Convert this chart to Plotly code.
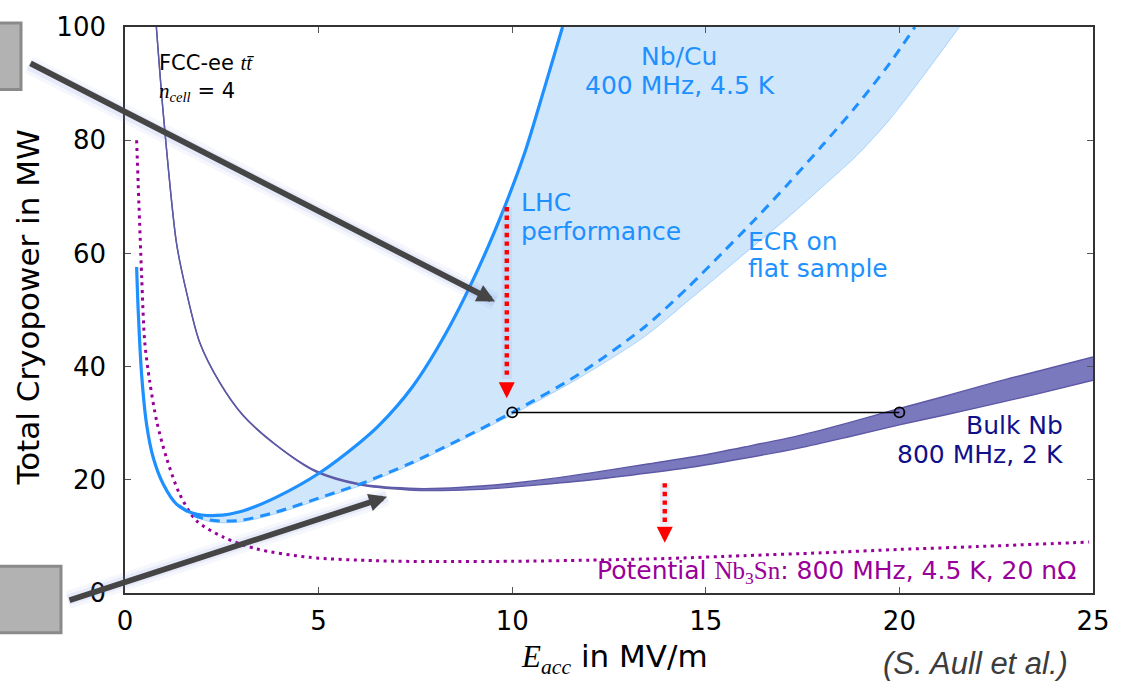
import plotly.graph_objects as go

# ---------------------------------------------------------------------------
# Data: total cryogenic power (MW) versus accelerating gradient (MV/m)
# ---------------------------------------------------------------------------

# Nb/Cu, 400 MHz, 4.5 K - LHC cavity performance (solid line)
nbcu_E = [0.30, 0.34, 0.43, 0.56, 0.73, 0.99, 1.33, 1.76, 2.36, 3.04, 3.90,
          5.02, 6.05, 6.56, 7.42, 8.28, 9.13, 9.82, 10.33, 10.85, 11.30]
nbcu_P = [57.6, 50.1, 38.5, 29.7, 23.9, 19.2, 15.7, 14.1, 13.7, 14.5, 16.9,
          21.2, 26.5, 29.6, 36.4, 45.8, 57.4, 68.5, 77.9, 89.6, 100.0]

# Nb/Cu, ECR film measured on a flat sample (dashed line)
ecr_E = [1.40, 1.76, 2.19, 2.60, 3.04, 3.90, 5.19, 6.13, 7.33, 8.70, 10.0,
         11.71, 13.42, 14.54, 15.40, 16.27, 17.13, 18.0, 18.87, 19.73, 20.40]
ecr_P = [15.4, 13.8, 12.9, 12.7, 12.9, 14.3, 17.2, 19.4, 22.8, 27.3, 31.9,
         38.6, 47.0, 54.0, 59.9, 66.0, 72.3, 79.0, 85.9, 93.4, 100.0]

# lower boundary of the Nb/Cu band
band_lo_E = [1.40, 1.76, 2.19, 2.60, 3.04, 3.90, 5.19, 6.13, 7.33, 8.70, 10.0,
             11.71, 13.42, 14.54, 15.40, 16.27, 17.13, 18.0, 18.87, 19.73,
             20.60, 21.55]
band_lo_P = [15.3, 13.6, 12.6, 12.4, 12.6, 14.0, 16.9, 19.1, 22.5, 27.0, 31.5,
             37.9, 45.3, 51.6, 56.5, 61.5, 66.4, 71.7, 77.1, 83.5, 91.2, 100.0]

# Bulk Nb, 800 MHz, 2 K (band)
bulk_E = [0.81, 0.99, 1.33, 1.59, 1.93, 2.44, 3.04, 3.90, 4.93, 6.05, 7.33,
          8.2, 9.2, 10.0, 11.0, 12.2, 13.5, 14.8, 16.0, 17.4, 18.7, 20.0,
          21.2, 22.5, 23.7, 25.0]
bulk_hi = [100.0, 84.6, 61.8, 53.1, 44.3, 37.3, 31.5, 26.2, 21.6, 19.3, 18.5,
           18.5, 18.9, 19.4, 20.2, 21.4, 22.8, 24.2, 25.8, 27.8, 30.1, 32.6,
           34.8, 37.3, 39.4, 41.7]
bulk_lo = [100.0, 84.6, 61.8, 53.1, 44.2, 37.2, 31.4, 26.1, 21.4, 19.1, 18.2,
           18.1, 18.3, 18.7, 19.3, 20.1, 21.2, 22.4, 23.8, 25.6, 27.6, 29.7,
           31.5, 33.5, 35.4, 37.6]

# Potential Nb3Sn, 800 MHz, 4.5 K, 20 nOhm (dotted line)
sn_E = [0.30, 0.43, 0.51, 0.64, 0.82, 1.07, 1.41, 1.84, 2.53, 3.39, 4.76,
        6.47, 8.0, 10.0, 12.0, 14.0, 16.0, 18.0, 20.0, 22.0, 24.9]
sn_P = [80.0, 56.0, 44.3, 37.3, 30.3, 23.9, 17.5, 12.8, 9.9, 7.8, 6.3,
        5.7, 5.55, 5.6, 5.8, 6.1, 6.6, 7.1, 7.7, 8.2, 9.0]

# equal-power comparison: ECR Nb/Cu at 10 MV/m vs bulk Nb at 20 MV/m
link_E = [10.0, 20.0]
link_P = [31.9, 31.9]

# red "improvement" arrows: gradient, start, head top, tip
red_arrows = [
    (9.86, 68.2, 37.8, 34.4),
    (13.94, 19.4, 11.9, 8.9),
]

x_ticks = [0, 5, 10, 15, 20, 25]
y_ticks = [0, 20, 40, 60, 80, 100]

# ---------------------------------------------------------------------------
# Styling
# ---------------------------------------------------------------------------
W, H = 1123, 681
ML, MR, MT, MB = 125, 30, 22, 88
PW, PH = W - ML - MR, H - MT - MB

BLUE = "#1e90ff"
BAND_BLUE = "#d0e6fb"
BULK_FILL = "#7b79bd"
BULK_EDGE = "#5d59a6"
NAVY = "#10108a"
PURPLE = "#990099"
SANS = "DejaVu Sans"
SERIF = "Liberation Serif"


def paper(px, py):
    """Convert a pixel position on the page into paper coordinates."""
    return (px - ML) / PW, (H - MB - py) / PH


fig = go.Figure()

# light-blue band of the Nb/Cu performance range
fig.add_trace(go.Scatter(
    x=band_lo_E, y=band_lo_P, mode="lines",
    line=dict(color="rgba(30,144,255,0.30)", width=1, shape="spline", smoothing=0.8),
    hoverinfo="skip", showlegend=False))
upper = [(e, p) for e, p in zip(nbcu_E, nbcu_P) if e >= 1.33]
fig.add_trace(go.Scatter(
    x=[e for e, _ in upper], y=[p for _, p in upper], mode="lines",
    line=dict(width=0, shape="spline", smoothing=0.8),
    fill="tonexty", fillcolor=BAND_BLUE, hoverinfo="skip", showlegend=False))

# bulk Nb band
fig.add_trace(go.Scatter(
    x=bulk_E, y=bulk_lo, mode="lines",
    line=dict(color=BULK_EDGE, width=1.4, shape="spline", smoothing=0.8),
    hoverinfo="skip", showlegend=False))
fig.add_trace(go.Scatter(
    x=bulk_E, y=bulk_hi, mode="lines",
    line=dict(color=BULK_EDGE, width=1.4, shape="spline", smoothing=0.8),
    fill="tonexty", fillcolor=BULK_FILL, hoverinfo="skip", showlegend=False))

# Nb3Sn potential
fig.add_trace(go.Scatter(
    x=sn_E, y=sn_P, mode="lines",
    line=dict(color=PURPLE, width=3, dash="3px,4.5px", shape="spline", smoothing=0.8),
    hoverinfo="skip", showlegend=False))

# Nb/Cu solid and ECR dashed curves
fig.add_trace(go.Scatter(
    x=nbcu_E, y=nbcu_P, mode="lines",
    line=dict(color=BLUE, width=3.2, shape="spline", smoothing=0.8),
    hoverinfo="skip", showlegend=False))
fig.add_trace(go.Scatter(
    x=ecr_E, y=ecr_P, mode="lines",
    line=dict(color=BLUE, width=3, dash="10px,7px", shape="spline", smoothing=0.8),
    hoverinfo="skip", showlegend=False))

# equal-power link
fig.add_trace(go.Scatter(
    x=link_E, y=link_P, mode="lines+markers",
    line=dict(color="black", width=1.6),
    marker=dict(symbol="circle-open", size=10, color="black", line=dict(width=1.8)),
    hoverinfo="skip", showlegend=False))

annotations = []

# red dotted arrows
for e, p_top, p_head, p_tip in red_arrows:
    fig.add_trace(go.Scatter(
        x=[e, e], y=[p_top, p_head], mode="lines",
        line=dict(color="rgba(150,170,230,0.2)", width=10),
        hoverinfo="skip", showlegend=False))
    fig.add_trace(go.Scatter(
        x=[e, e], y=[p_top, p_head], mode="lines",
        line=dict(color="#ff0000", width=4.4, dash="4.4px,4.2px"),
        hoverinfo="skip", showlegend=False))
    annotations.append(dict(
        x=e, y=p_tip, xref="x", yref="y", text="", showarrow=True,
        ax=0, ay=-16, axref="pixel", ayref="pixel",
        arrowhead=2, arrowsize=0.8, arrowwidth=4, arrowcolor="#ff0000"))

# dark grey pointer arrows from the side boxes (pixel geometry)
pointer_arrows = [((29, 60), (495, 299)), ((68, 600), (387, 496))]
shapes = []
for (tx, ty), (hx, hy) in pointer_arrows:
    x0, y0 = paper(tx, ty)
    x1, y1 = paper(hx, hy)
    for wdt, alpha in ((18, 0.07), (11, 0.12)):
        shapes.append(dict(type="line", xref="paper", yref="paper",
                           x0=x0, y0=y0, x1=x1, y1=y1,
                           line=dict(color=f"rgba(120,140,225,{alpha})", width=wdt),
                           layer="above"))
    annotations.append(dict(
        x=x1, y=y1, xref="paper", yref="paper", text="", showarrow=True,
        ax=tx - hx, ay=ty - hy, axref="pixel", ayref="pixel",
        arrowhead=2, arrowsize=0.62, arrowwidth=5.8, arrowcolor="#454545"))

# grey side boxes
for (bx0, by0, bx1, by1) in [(-6, 18, 21, 85), (-6, 566, 61, 633)]:
    x0, y0 = paper(bx0, by1)
    x1, y1 = paper(bx1, by0)
    shapes.append(dict(type="rect", xref="paper", yref="paper",
                       x0=x0, y0=y0, x1=x1, y1=y1,
                       fillcolor="#b2b2b2", line=dict(color="#8a8a8a", width=3),
                       layer="above"))


def label(text, px, py, xanchor, color, size=25, family=SANS, italic=False):
    x, y = paper(px, py)
    font = dict(family=family, size=size, color=color)
    if italic:
        font["style"] = "italic"
    annotations.append(dict(x=x, y=y, xref="paper", yref="paper", text=text,
                            showarrow=False, xanchor=xanchor, yanchor="middle",
                            font=font))


math = lambda s: f"<span style='font-family:{SERIF}'>{s}</span>"

label("FCC-ee " + math("<i>tt\u0304</i>"), 157, 58, "left", "black", size=21)
label(math("<i>n</i><sub><i>cell</i></sub>") + " = 4", 157, 88, "left", "black", size=21)
label("Nb/Cu", 679, 52, "center", BLUE)
label("400 MHz, 4.5 K", 680, 81, "center", BLUE)
label("LHC", 519, 199, "left", BLUE)
label("performance", 519, 228, "left", BLUE)
label("ECR on", 746, 238, "left", BLUE)
label("flat sample", 746, 266, "left", BLUE)
label("Bulk Nb", 1065, 424, "right", NAVY)
label("800 MHz, 2 K", 1065, 453, "right", NAVY)
label("Potential " + math("Nb<sub>3</sub>Sn") + ": 800 MHz, 4.5 K, 20 n\u03a9",
      1078, 572, "right", PURPLE)
label("(S. Aull et al.)", 1070, 664, "right", "#3c3c3c", size=31,
      family="Liberation Sans", italic=True)

# axis titles
label(math("<i>E</i><sub><i>acc</i></sub>") + " in MV/m", 614, 659, "center",
      "black", size=31)
ty_x, ty_y = paper(28, 305)
annotations.append(dict(x=ty_x, y=ty_y, xref="paper", yref="paper",
                        text="Total Cryopower in MW", showarrow=False,
                        textangle=-90, xanchor="center", yanchor="middle",
                        font=dict(family=SANS, size=31, color="black")))

axis_common = dict(
    showline=True, linecolor="#333333", linewidth=1.6, mirror="ticks",
    ticks="inside", ticklen=6, tickwidth=1.2, tickcolor="#555555",
    showgrid=False, zeroline=False,
    tickfont=dict(family=SANS, size=26, color="black"),
)

fig.update_layout(
    width=W, height=H,
    margin=dict(l=ML, r=MR, t=MT, b=MB),
    paper_bgcolor="white", plot_bgcolor="white",
    showlegend=False,
    xaxis=dict(range=[0, 25], tickvals=x_ticks, ticktext=[str(v) for v in x_ticks],
               ticklabelstandoff=4, **axis_common),
    yaxis=dict(range=[0, 100], tickvals=y_ticks, ticktext=[str(v) for v in y_ticks],
               ticklabelstandoff=12, **axis_common),
    shapes=shapes,
    annotations=annotations,
)

fig.write_html("out.html")
